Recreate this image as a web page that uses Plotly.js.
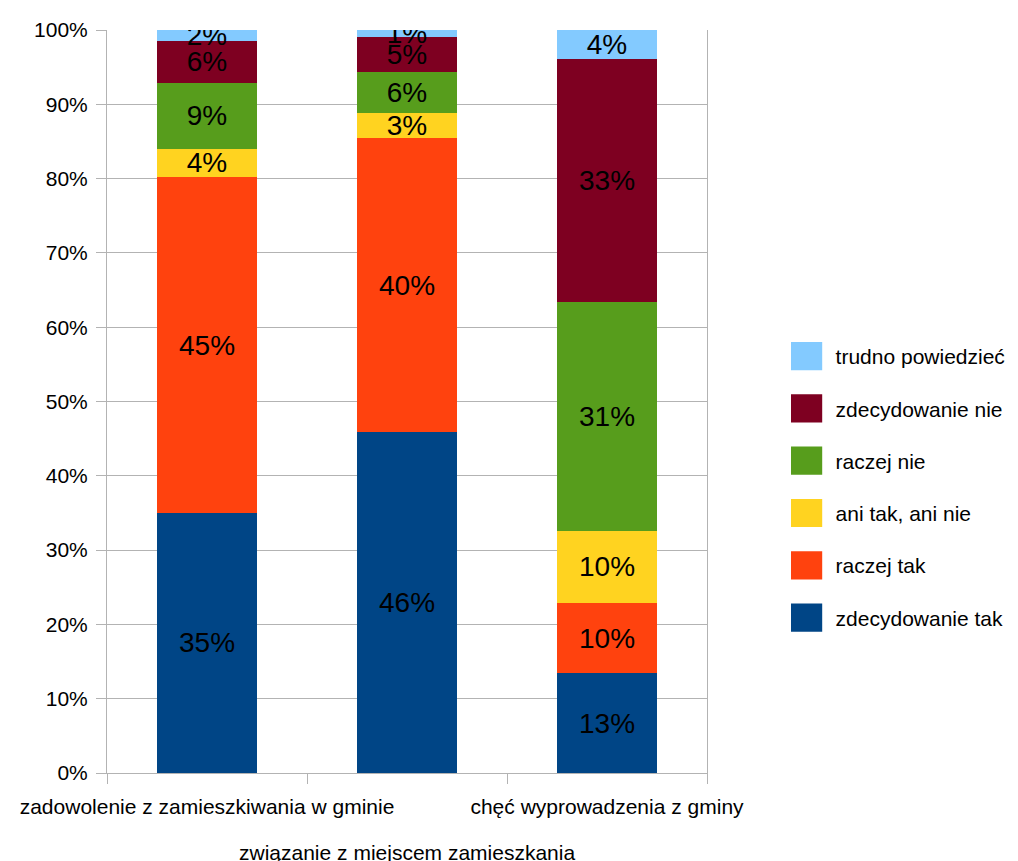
<!DOCTYPE html>
<html>
<head>
<meta charset="utf-8">
<script src="https://cdn.plot.ly/plotly-3.0.1.min.js"></script>
<style>
  html, body { margin: 0; padding: 0; background: #ffffff; }
  #chart { width: 1018px; height: 861px; }
</style>
</head>
<body>
<div id="chart"></div>
<script>
// Categories (x axis)
const categories = [
  "zadowolenie z zamieszkiwania w gminie",
  "związanie z miejscem zamieszkania",
  "chęć wyprowadzenia z gminy"
];

// Series values (percent), bottom to top of stack
const zdecydowanieTak   = [35.0, 45.9, 13.4];
const raczejTak         = [45.2, 39.5, 9.5];
const aniTakAniNie      = [3.8, 3.4, 9.7];
const raczejNie         = [8.9, 5.5, 30.8];
const zdecydowanieNie   = [5.6, 4.8, 32.7];
const trudnoPowiedziec  = [1.6, 0.9, 3.9];

const seriesNames = [
  "zdecydowanie tak",
  "raczej tak",
  "ani tak, ani nie",
  "raczej nie",
  "zdecydowanie nie",
  "trudno powiedzieć"
];
const seriesValues = [zdecydowanieTak, raczejTak, aniTakAniNie, raczejNie, zdecydowanieNie, trudnoPowiedziec];
const seriesColors = ["#004586", "#ff420e", "#ffd320", "#579d1c", "#7e0021", "#83caff"];

// y tick values
const yTicks = [0, 10, 20, 30, 40, 50, 60, 70, 80, 90, 100];

const FONT = "Liberation Sans, Arial, sans-serif";
const SMALL = 21;

const traces = seriesNames.map((name, i) => ({
  type: "bar",
  name: name,
  x: categories,
  y: seriesValues[i],
  width: 0.5,
  marker: { color: seriesColors[i], line: { width: 0 } },
  text: seriesValues[i].map(v => Math.round(v) + "%"),
  textposition: "inside",
  insidetextanchor: "middle",
  textangle: 0,
  constraintext: "none",
  textfont: { family: FONT, size: 28, color: "#000000" },
  legendgroup: "g" + i,
  legendrank: seriesNames.length - i,
  hoverinfo: "name+y"
}));

// staggered category labels: odd ones go to a second row (drawn as annotations on the category scale)
const ticktext = categories.map((c, i) => (i % 2 === 1 ? "" : c));
const lowerRow = categories
  .map((c, i) => ({ c, i }))
  .filter(o => o.i % 2 === 1)
  .map(o => ({
    xref: "x", x: o.c,
    yref: "paper", y: 0,
    yanchor: "middle", xanchor: "center",
    yshift: -79,
    text: o.c,
    showarrow: false,
    font: { family: FONT, size: SMALL, color: "#000000" }
  }));

const layout = {
  width: 1018,
  height: 861,
  paper_bgcolor: "#ffffff",
  plot_bgcolor: "#ffffff",
  barmode: "stack",
  font: { family: FONT, size: SMALL, color: "#000000" },
  margin: { l: 107, r: 311, t: 30, b: 88, pad: 0, autoexpand: false },
  showlegend: true,
  uniformtext: { mode: "show", minsize: 28 },
  legend: {
    x: 1.131,
    xanchor: "left",
    y: 0.385,
    yanchor: "middle",
    traceorder: "grouped",
    tracegroupgap: 22,
    font: { family: FONT, size: SMALL, color: "#000000" },
    itemwidth: 40,
    bgcolor: "rgba(0,0,0,0)"
  },
  annotations: lowerRow,
  xaxis: {
    type: "category",
    tickmode: "array",
    tickvals: categories,
    ticktext: ticktext,
    tickangle: 0,
    tickson: "boundaries",
    ticks: "outside",
    ticklen: 10,
    tickcolor: "#b3b3b3",
    ticklabelstandoff: 15,
    showline: true,
    linecolor: "#b3b3b3",
    linewidth: 1,
    showgrid: false,
    zeroline: false,
    tickfont: { family: FONT, size: SMALL, color: "#000000" },
    fixedrange: true,
    automargin: false
  },
  yaxis: {
    range: [0, 100],
    tickmode: "array",
    tickvals: yTicks,
    ticktext: yTicks.map(v => v + "%"),
    ticks: "outside",
    ticklen: 10,
    tickcolor: "#b3b3b3",
    ticklabelstandoff: 4,
    showline: true,
    mirror: true,
    linecolor: "#b3b3b3",
    linewidth: 1,
    showgrid: true,
    gridcolor: "#b3b3b3",
    gridwidth: 1,
    zeroline: false,
    tickfont: { family: FONT, size: SMALL, color: "#000000" },
    fixedrange: true,
    automargin: false
  }
};

Plotly.newPlot("chart", traces, layout, { displayModeBar: false, staticPlot: true }).then(gd => {
  // enlarge legend swatches to match reference
  gd.querySelectorAll(".legend .legendpoints path").forEach(p => {
    const t = p.getAttribute("transform") || "";
    p.setAttribute("transform", t + " translate(-4,0) scale(2.6,2.35)");
  });
});
</script>
</body>
</html>
